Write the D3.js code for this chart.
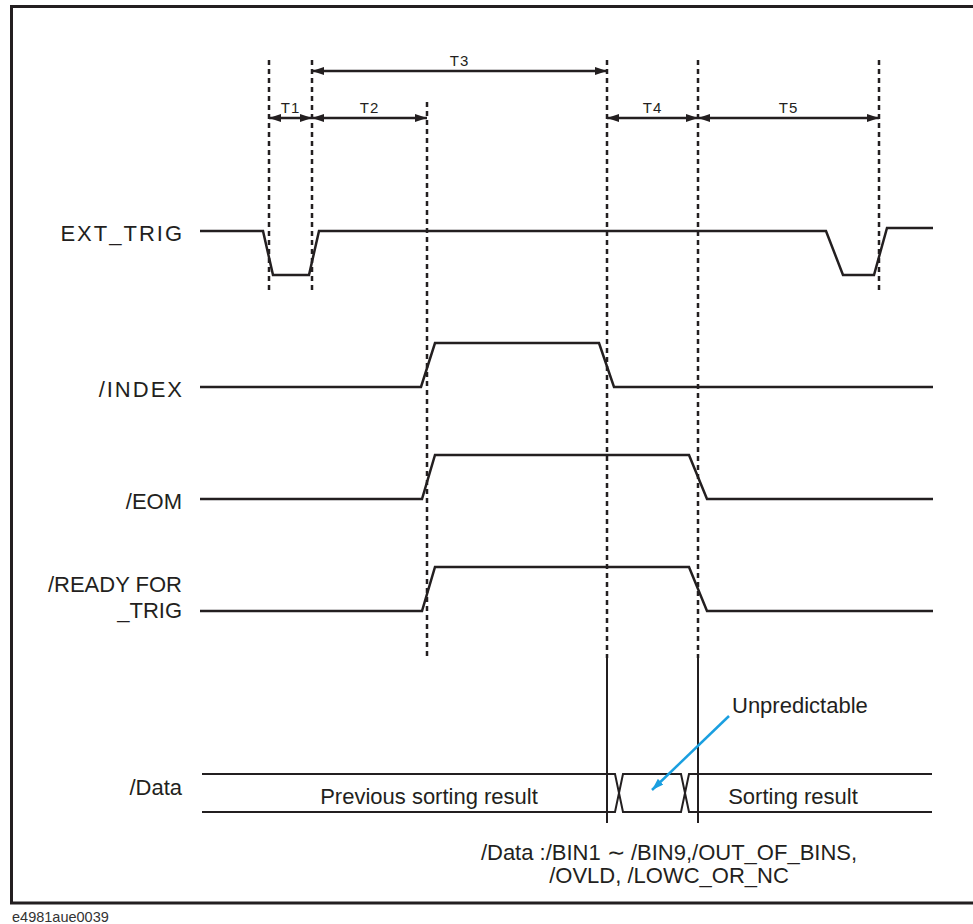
<!DOCTYPE html>
<html>
<head>
<meta charset="utf-8">
<script src="https://cdn.jsdelivr.net/npm/d3@7"></script>
<style>
  body { margin: 0; background: #fff; }
  svg { display: block; font-family: "Liberation Sans", Arial, sans-serif; }
</style>
</head>
<body>
<svg id="timing" width="973" height="924"></svg>
<script>
// signal waveforms as [time, level] pairs (time in arbitrary units)
const signalNames = ["EXT_TRIG", "/INDEX", "/EOM", "/READY FOR\n_TRIG"];
const extTrig = [[0, 1], [63, 1], [73, 0], [109, 0], [119, 1], [626, 1], [643, 0], [674, 0], [687, 1.07], [733, 1.07]];
const indexSig = [[0, 0], [221, 0], [235, 1], [399, 1], [414, 0], [733, 0]];
const eomSig = [[0, 0], [222, 0], [235, 1], [489, 1], [507, 0], [733, 0]];
const readySig = [[0, 0], [222, 0], [235, 1], [489, 1], [507, 0], [733, 0]];

// dashed timing markers
const markerTimes = [69, 112, 227, 407, 498, 679];
const markerTier = [0, 0, 1, 0, 0, 0];
const markerReach = ["trig", "trig", "ready", "data", "data", "trig"];

// timing spans
const spanNames = ["T1", "T2", "T3", "T4", "T5"];
const spanFrom = [69, 112, 112, 407, 498];
const spanTo = [112, 227, 407, 498, 679];
const spanTier = [1, 1, 0, 1, 1];

// data bus: segment edges (crossing centres) and texts
const busEdges = [2, 419, 485, 732];
const busTexts = ["Previous sorting result", "", "Sorting result"];
const busTextAt = [229, 0, 593];
const noteText = "Unpredictable";
const noteLines = ["/Data :/BIN1 \u223C /BIN9,/OUT_OF_BINS,", "/OVLD, /LOWC_OR_NC"];
const figureId = "e4981aue0039";

const ink = "#231f20";
const svg = d3.select("#timing");

const x = d3.scaleLinear().domain([0, 733]).range([200, 933]);
const row = d3.scalePoint().domain(signalNames).range([275, 611]);
const level = d3.scaleLinear().domain([0, 1]).range([0, -44]);
const tierY = [71, 118];
const tierTop = [60, 102];
const reachY = { trig: 292, ready: 657, data: 658 };
const busMid = 793, busHalf = 19;

// frame
svg.append("rect")
  .attr("x", 11.5).attr("y", 6.5)
  .attr("width", 990).attr("height", 896.5)
  .attr("fill", "none").attr("stroke", ink).attr("stroke-width", 3);

const defs = svg.append("defs");
function head(id, color) {
  defs.append("marker")
    .attr("id", id)
    .attr("viewBox", "0 0 12 8")
    .attr("refX", 12).attr("refY", 4)
    .attr("markerWidth", 12).attr("markerHeight", 8)
    .attr("markerUnits", "userSpaceOnUse")
    .attr("orient", "auto-start-reverse")
    .append("path").attr("d", "M0,0L12,4L0,8Z").attr("fill", color);
}
head("ah", ink);
head("ahBlue", "#1a9fe0");

// dashed markers
markerTimes.forEach((t, i) => {
  const bottom = reachY[markerReach[i]];
  svg.append("line")
    .attr("x1", x(t)).attr("x2", x(t))
    .attr("y1", tierTop[markerTier[i]]).attr("y2", bottom)
    .attr("stroke", ink).attr("stroke-width", 2.5)
    .attr("stroke-dasharray", "5,4");
  if (markerReach[i] === "data") {
    svg.append("line")
      .attr("x1", x(t)).attr("x2", x(t))
      .attr("y1", bottom).attr("y2", busMid + busHalf + 11)
      .attr("stroke", ink).attr("stroke-width", 2);
  }
});

// span arrows
spanNames.forEach((name, i) => {
  const y = tierY[spanTier[i]];
  svg.append("line")
    .attr("x1", x(spanFrom[i])).attr("x2", x(spanTo[i]))
    .attr("y1", y).attr("y2", y)
    .attr("stroke", ink).attr("stroke-width", 2.5)
    .attr("marker-start", "url(#ah)")
    .attr("marker-end", "url(#ah)");
  svg.append("text")
    .attr("x", (x(spanFrom[i]) + x(spanTo[i])) / 2)
    .attr("y", y - 5)
    .attr("text-anchor", "middle")
    .attr("font-size", 15)
    .attr("letter-spacing", 1)
    .attr("fill", ink)
    .text(name);
});

// waveforms
const waves = [extTrig, indexSig, eomSig, readySig];
waves.forEach((pts, i) => {
  const base = row(signalNames[i]);
  const line = d3.line().x(d => x(d[0])).y(d => base + level(d[1]));
  svg.append("path")
    .attr("d", line(pts))
    .attr("fill", "none").attr("stroke", ink).attr("stroke-width", 2.5)
    .attr("stroke-linejoin", "miter");

  const idle = base + level(pts[0][1]);
  const parts = signalNames[i].split("\n");
  const t = svg.append("text")
    .attr("text-anchor", "end")
    .attr("font-size", 22)
    .attr("fill", ink)
    .attr("letter-spacing", parts.length === 1 && signalNames[i] !== "/EOM" ? 2 : 0);
  if (parts.length === 1) {
    t.attr("x", parts[0] === "/EOM" ? 182 : 184).attr("y", idle + 10).text(parts[0]);
  } else {
    parts.forEach((p, k) => {
      t.append("tspan").attr("x", 182).attr("y", idle - 19 + k * 26).text(p);
    });
  }
});

// data bus
const busTop = busMid - busHalf, busBot = busMid + busHalf, cw = 4;
for (let i = 0; i < busEdges.length - 1; i++) {
  const a = x(busEdges[i]), b = x(busEdges[i + 1]);
  const first = i === 0, last = i === busEdges.length - 2;
  const p = d3.path();
  if (first) { p.moveTo(a, busTop); } else { p.moveTo(a, busMid); p.lineTo(a + cw, busTop); }
  if (last) { p.lineTo(b, busTop); p.moveTo(b, busBot); } else { p.lineTo(b - cw, busTop); p.lineTo(b, busMid); p.lineTo(b - cw, busBot); }
  if (first) { p.lineTo(a, busBot); } else { p.lineTo(a + cw, busBot); p.lineTo(a, busMid); }
  svg.append("path").attr("d", p.toString())
    .attr("fill", "none").attr("stroke", ink).attr("stroke-width", 2);
  if (busTexts[i]) {
    svg.append("text")
      .attr("x", x(busTextAt[i])).attr("y", busMid + 11)
      .attr("text-anchor", "middle").attr("font-size", 22).attr("fill", ink)
      .text(busTexts[i]);
  }
}
svg.append("text")
  .attr("x", 182).attr("y", busMid + 2)
  .attr("text-anchor", "end").attr("font-size", 22).attr("fill", ink)
  .text("/Data");

// unpredictable note
svg.append("text")
  .attr("x", x(532)).attr("y", 713)
  .attr("font-size", 22).attr("fill", ink)
  .text(noteText);
svg.append("line")
  .attr("x1", x(529)).attr("y1", 716)
  .attr("x2", x((busEdges[1] + busEdges[2]) / 2)).attr("y2", busMid - 3)
  .attr("stroke", "#1a9fe0").attr("stroke-width", 2.5)
  .attr("marker-end", "url(#ahBlue)");

// bottom note
noteLines.forEach((s, k) => {
  svg.append("text")
    .attr("x", 669).attr("y", 860 + k * 23)
    .attr("text-anchor", "middle").attr("font-size", 22).attr("fill", ink)
    .text(s);
});

svg.append("text")
  .attr("x", 12).attr("y", 922)
  .attr("font-size", 14.5).attr("fill", "#333")
  .text(figureId);
</script>
</body>
</html>
